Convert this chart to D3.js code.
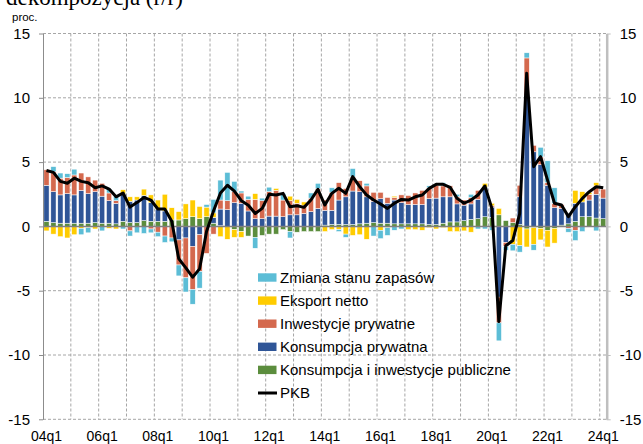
<!DOCTYPE html>
<html>
<head>
<meta charset="utf-8">
<script src="https://cdn.jsdelivr.net/npm/d3@7"></script>
<style>
    body { margin: 0; background: #fff; }
    svg { display: block; font-family: "Liberation Sans", Arial, sans-serif; }
</style>
</head>
<body>
<svg width="643" height="444"></svg>
<script>
// quarters 2004q1 - 2024q1
const years = d3.range(2004, 2025);
const quarters = [];
for (let y of years) {
    for (let q = 1; q <= 4; q++) {
        if (y === 2024 && q > 1) break;
        quarters.push(String(y).slice(2) + "q" + q);
    }
}
const tickLabels = ["04q1", "06q1", "08q1", "10q1", "12q1", "14q1", "16q1", "18q1", "20q1", "22q1", "24q1"];
const yTicks = [-15, -10, -5, 0, 5, 10, 15];

// Konsumpcja i inwestycje publiczne
const publiczne = [0.4, 0.3, 0.25, 0.25, 0.25, 0.25, 0.25, 0.3, 0.25, 0.25, 0.2, 0.4, 0.3, 0.3, 0.45, 0.4,
    0.4, 0.4, 0.5, 0.5, 0.6, 0.75, 0.6, 0.75, 0.25, 0.05, 0, -0.25, -0.4, -0.75, -0.85, -0.7,
    -0.6, -0.6, -0.25, -0.4, -0.45, -0.4, -0.4, -0.4, 0.1, 0.15, 0.15, 0.15, 0.15, 0.2, 0.25, 0.3,
    0.25, 0.25, 0.2, 0.2, 0.2, 0.2, 0.2, 0.15, 0.15, 0.25, 0.35, 0.35, 0.45, 0.55, 0.6, 0.75,
    0.7, 0.9, 0.45, 0.3, 0.15, -0.2, -0.1, -0.15, -0.3, -0.15, 0.1, 0.2, 0.4, 0.75, 0.75, 0.65, 0.6];
// Konsumpcja prywatna
const konsumpcja = [2.8, 2.4, 2.2, 2.3, 2.2, 2.55, 2.3, 2.4, 2.1, 1.75, 1.6, 2.15, 1.65, 1.75, 1.95, 1.45,
    0.95, 0.8, 0, -1.05, -0.9, -1.55, -0.65, 0, 0.45, 1.3, 1.3, 1.85, 1.8, 1.2, 0.6, 0.6,
    0.8, 0.8, 0.75, 0.9, 0.9, 1.0, 1.15, 1.4, 1.15, 1.1, 1.9, 2.15, 2.6, 2.5, 2.05, 1.65,
    1.9, 1.55, 1.85, 1.65, 1.5, 1.5, 1.5, 2.0, 2.05, 2.05, 1.95, 1.4, 1.2, 1.2, 1.5, 2.3,
    0.8, -5.5, -1.25, 0, 2.15, 10.2, 5.8, 4.8, 3.2, 1.45, 1.3, 0.8, 1.4, 1.15, 1.3, 1.85, 1.6];
// Inwestycje prywatne
const inwestycje = [1.2, 1.55, 1.3, 1.25, 1.55, 1.35, 1.3, 0.9, 1.0, 0.6, 0.2, 0, -0.35, 0, 0, -0.2,
    -0.45, -0.75, -0.9, -1.95, -3.1, -3.35, -2.85, -2.1, -0.6, 0.7, 0.7, 0.85, 0.8, 0.9, 1.5, 1.4,
    1.9, 2.0, 1.3, 1.1, 0.9, 0.65, 1.05, 1.55, 0.8, 1.4, 1.35, 0.65, 1.1, 0.85, 0.85, 0.7,
    0.5, 0.45, 0.2, 0.6, 0.7, 0.9, 1.1, 0.85, 1.0, 0.85, 0.85, 0.55, 0.4, 0.5, 0.7, 0,
    0.1, -2.0, -0.3, 0.35, 0.9, 2.9, 0.5, 0.6, 0.2, 0.35, 0.3, -0.15, -0.3, 0, 0.45, 0.65, 0.7];
// Eksport netto
const eksport = [-0.35, -0.6, -0.8, -0.9, -0.65, -0.15, -0.1, -0.2, 0, -0.15, -0.2, 0.3, 0.35, 0.25, 0.5, 0.6,
    0.7, 1.3, 0.95, 0.65, 1.15, 1.3, 0.95, 0.75, 0.35, -0.8, -1.0, -0.6, -0.45, 0, 0.45, 0,
    0, 0.15, 0, 0.35, 0.3, 0.25, 0, 0, -0.4, -0.25, -0.25, -0.6, -0.7, -0.65, -1.0, 0,
    -0.3, -0.1, 0.1, 0, -0.25, -0.25, -0.3, -0.1, -0.2, -0.1, -0.4, -0.4, -0.35, -0.45, 0, 0.3,
    0.2, 0.5, 0, -1.4, -1.5, -1.4, -1.3, -0.9, -1.3, -1.15, 0, 0, 1.0, 0.8, 0.15, 0.25, 0];
// Zmiana stanu zapasów
const zapasy = [0, 0.4, 0.4, 0.3, 0.45, -0.5, -0.4, 0, -0.35, 0.3, 0.35, -0.2, -0.4, -0.5, -0.55, -0.3,
    -0.35, -0.5, -0.3, -0.85, -1.1, -1.15, -1.3, 0.2, 1.05, 1.55, 2.2, 0.8, 0.15, 0.25, -0.85, 0.2,
    0.35, 0, 0.5, -0.5, 0, 0, 0.4, 0.4, 0, 0.35, -0.15, -0.25, 0.65, 0, 0.2, -0.75,
    -0.65, -0.6, -0.3, -0.2, 0, 0, 0, 0.15, 0, 0.25, 0, 0.2, 0, 0.25, -0.2, -0.2,
    -0.3, -1.4, -0.3, -0.5, -0.5, 0.4, -0.45, 0.75, 1.7, 1.2, 0, -0.3, -0.8, -0.4, 0, -0.35, 0];
// PKB r/r
const pkb = [4.35, 4.2, 3.5, 3.35, 3.75, 3.5, 3.4, 3.0, 3.15, 2.9, 2.3, 2.6, 1.5, 1.85, 2.25, 2.05,
    1.35, 1.35, 0.4, -2.5, -3.2, -3.95, -3.3, -0.4, 1.2, 2.6, 3.2, 2.75, 2.0, 1.65, 1.0, 1.4,
    2.5, 2.44, 2.57, 1.53, 1.6, 1.48, 2.05, 2.88, 1.66, 2.57, 2.96, 2.57, 3.87, 3.09, 2.44, 2.05,
    1.74, 1.4, 1.8, 2.1, 2.05, 2.3, 2.44, 2.96, 3.27, 3.27, 3.04, 2.18, 1.8, 2.05, 2.44, 3.14,
    1.4, -7.4, -1.5, -1.1, 1.0, 11.9, 4.64, 5.42, 3.6, 1.8, 1.66, 0.76, 1.53, 2.18, 2.7, 3.09, 3.0];

const series = [
    {key: "publiczne", name: "Konsumpcja i inwestycje publiczne", values: publiczne, color: "#5b8d3d"},
    {key: "konsumpcja", name: "Konsumpcja prywatna", values: konsumpcja, color: "#2f5597"},
    {key: "inwestycje", name: "Inwestycje prywatne", values: inwestycje, color: "#d4694e"},
    {key: "eksport", name: "Eksport netto", values: eksport, color: "#ffcc00"},
    {key: "zapasy", name: "Zmiana stanu zapasów", values: zapasy, color: "#5cbdd6"}
];

const area = {left: 43, right: 606.7, top: 33.5, bottom: 419.3};

function drawGraph() {
    let svg = d3.select("svg");

    // title, cut off by the top edge
    svg.append("text")
        .attr("x", 6).attr("y", 5)
        .style("font-family", "'Liberation Serif', 'Times New Roman', serif")
        .style("font-size", "23px")
        .text("dekompozycja (r/r)");

    svg.append("text")
        .attr("x", 12).attr("y", 21)
        .style("font-size", "11.5px")
        .text("proc.");

    const scX = d3.scaleBand()
        .domain(quarters)
        .range([area.left, area.right])
        .paddingInner(0.25)
        .paddingOuter(0.125);

    const scY = d3.scaleLinear()
        .domain([-15, 15])
        .range([area.bottom, area.top]);

    createGrid(svg, scX, scY);
    createBars(svg, scX, scY);
    createAxis(svg, scX, scY);
    createLine(svg, scX, scY);
    createLegend(svg);
}

// dashed grid
function createGrid(svg, scX, scY) {
    let g = svg.append("g");
    g.selectAll(null)
        .data(yTicks.filter(d => d !== 0))
        .enter()
        .append("line")
        .attr("x1", area.left).attr("x2", area.right)
        .attr("y1", d => scY(d)).attr("y2", d => scY(d))
        .attr("stroke", "#a6a6a6")
        .attr("stroke-dasharray", "3,2");

    let step = scX.step();
    g.selectAll(null)
        .data(d3.range(4, quarters.length, 4))
        .enter()
        .append("line")
        .attr("x1", k => area.left + k * step).attr("x2", k => area.left + k * step)
        .attr("y1", area.top).attr("y2", area.bottom)
        .attr("stroke", "#a6a6a6")
        .attr("stroke-dasharray", "3,2");
}

// stacked bars
function createBars(svg, scX, scY) {
    const rows = quarters.map((q, i) => {
        let r = {q: q};
        series.forEach(s => r[s.key] = s.values[i]);
        return r;
    });
    const stack = d3.stack()
        .keys(series.map(s => s.key))
        .offset(d3.stackOffsetDiverging)(rows);

    svg.append("g")
        .selectAll("g")
        .data(stack)
        .enter()
        .append("g")
        .attr("fill", (d, i) => series[i].color)
        .selectAll("rect")
        .data(d => d)
        .enter()
        .append("rect")
        .attr("x", d => scX(d.data.q))
        .attr("width", scX.bandwidth())
        .attr("y", d => scY(Math.max(d[0], d[1])))
        .attr("height", d => Math.abs(scY(d[0]) - scY(d[1])))
        .attr("stroke", "#fff")
        .attr("stroke-width", 0.5);

    // zero line
    svg.append("line")
        .attr("x1", area.left).attr("x2", area.right)
        .attr("y1", scY(0)).attr("y2", scY(0))
        .attr("stroke", "#808080")
        .attr("stroke-width", 1.5);
}

// axes on both sides and quarter labels
function createAxis(svg, scX, scY) {
    // plain hyphen for negative numbers
    let fmt = d => String(d);
    let axisL = d3.axisLeft(scY).tickValues(yTicks).tickFormat(fmt).tickSize(4).tickSizeOuter(0).tickPadding(9);
    let axisR = d3.axisRight(scY).tickValues(yTicks).tickFormat(fmt).tickSize(4).tickSizeOuter(0).tickPadding(9);

    let gl = svg.append("g")
        .attr("transform", `translate(${area.left}, 0)`)
        .call(axisL);
    gl.select(".domain").attr("stroke", "#8c8c8c");
    gl.selectAll(".tick line").attr("stroke", "#8c8c8c");

    let gr = svg.append("g")
        .attr("transform", `translate(${area.right}, 0)`)
        .call(axisR);
    gr.select(".domain").attr("stroke", "#bfbfbf").attr("stroke-width", 2.5);
    gr.selectAll(".tick line").attr("stroke", "#bfbfbf");

    svg.selectAll(".tick text")
        .style("font-size", "15px")
        .style("font-family", "'Liberation Sans', Arial, sans-serif")
        .attr("fill", "#000");

    svg.append("g")
        .selectAll("text")
        .data(tickLabels)
        .enter()
        .append("text")
        .attr("x", d => scX(d) + scX.bandwidth() / 2)
        .attr("y", 441)
        .attr("text-anchor", "middle")
        .style("font-size", "14px")
        .text(d => d);
}

// PKB line
function createLine(svg, scX, scY) {
    const lineGenerator = d3.line()
        .x((d, i) => scX(quarters[i]) + scX.bandwidth() / 2)
        .y(d => scY(d));

    svg.append("path")
        .datum(pkb)
        .attr("fill", "none")
        .attr("stroke", "#000")
        .attr("stroke-width", 3)
        .attr("stroke-linejoin", "round")
        .attr("d", lineGenerator);
}

function createLegend(svg) {
    const items = series.slice().reverse();
    let g = svg.append("g");
    items.forEach((s, i) => {
        let y = 277.5 + i * 23.1;
        g.append("rect")
            .attr("x", 258).attr("y", y - 4.2)
            .attr("width", 18.5).attr("height", 8.4)
            .attr("fill", s.color);
        g.append("text")
            .attr("x", 280).attr("y", y)
            .attr("dy", "0.35em")
            .style("font-size", "15px")
            .text(s.name);
    });
    let y = 277.5 + 5 * 23.1;
    g.append("line")
        .attr("x1", 258).attr("x2", 277)
        .attr("y1", y).attr("y2", y)
        .attr("stroke", "#000")
        .attr("stroke-width", 3);
    g.append("text")
        .attr("x", 280).attr("y", y)
        .attr("dy", "0.35em")
        .style("font-size", "15px")
        .text("PKB");
}

drawGraph();
</script>
</body>
</html>
